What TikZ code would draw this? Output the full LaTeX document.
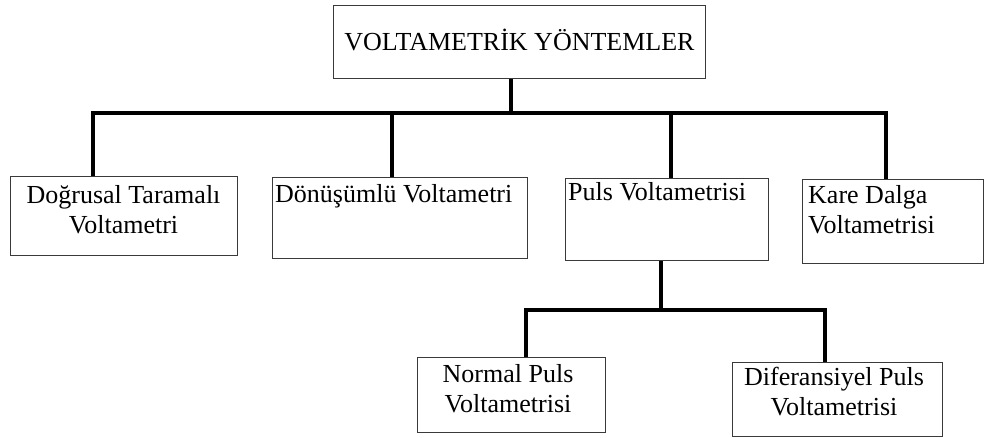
\documentclass[tikz,border=0pt]{standalone}
\usepackage{fontspec}
\setmainfont{Liberation Serif}
\definecolor{boxgray}{HTML}{3A3A3A}
\begin{document}
\begin{tikzpicture}[x=1pt,y=-1pt,
  box/.style={draw=boxgray, line width=1.2pt, inner sep=0pt, anchor=north west},
  conn/.style={draw=black, line width=3.5pt},
  lbl/.style={font=\fontsize{26}{30}\selectfont, inner sep=0pt, text=black}]
\useasboundingbox (0,0) rectangle (985,437);
% boxes
\node[box, minimum width=372pt, minimum height=73pt] (root) at (333,5) {};
\node[box, minimum width=227pt, minimum height=79pt] (b1) at (10,176) {};
\node[box, minimum width=255pt, minimum height=81pt] (b2) at (272,177) {};
\node[box, minimum width=203pt, minimum height=82pt] (b3) at (565,178) {};
\node[box, minimum width=181pt, minimum height=84pt] (b4) at (802,179) {};
\node[box, minimum width=188pt, minimum height=75pt] (b5) at (417,357) {};
\node[box, minimum width=210pt, minimum height=74pt] (b6) at (732,362) {};
% texts (base anchor = baseline of last line)
\node[lbl, anchor=base] (troot) at (519.5,50) {VOLTAMETRİK YÖNTEMLER};
\node[lbl, anchor=base, align=center] (t1) at (123.5,233) {Doğrusal Taramalı\\Voltametri};
\node[lbl, anchor=base west] (t2) at (275,202) {Dönüşümlü Voltametri};
\node[lbl, anchor=base west] (t3) at (568,200) {Puls Voltametrisi};
\node[lbl, anchor=base west, align=left] (t4) at (808,233) {Kare Dalga\\Voltametrisi};
\node[lbl, anchor=base, align=center] (t5) at (508,412) {Normal Puls\\Voltametrisi};
\node[lbl, anchor=base, align=center] (t6) at (834,415) {Diferansiyel Puls\\Voltametrisi};
% connector junctions
\coordinate (j0) at (511,113);
\coordinate (d1) at (93,113);
\coordinate (d2) at (392,113);
\coordinate (d3) at (671,113);
\coordinate (d4) at (886,113);
\coordinate (k0) at (661,310);
\coordinate (k5) at (526,310);
\coordinate (k6) at (825,310);
% connectors
\draw[conn] (root.south -| j0) -- (j0);
\draw[conn] (b1.north -| d1) -- (d1) -- (d4) -- (b4.north -| d4);
\draw[conn] (d2) -- (b2.north -| d2);
\draw[conn] (d3) -- (b3.north -| d3);
\draw[conn] (b3.south -| k0) -- (k0);
\draw[conn] (b5.north -| k5) -- (k5) -- (k6) -- (b6.north -| k6);
\end{tikzpicture}
\end{document}
